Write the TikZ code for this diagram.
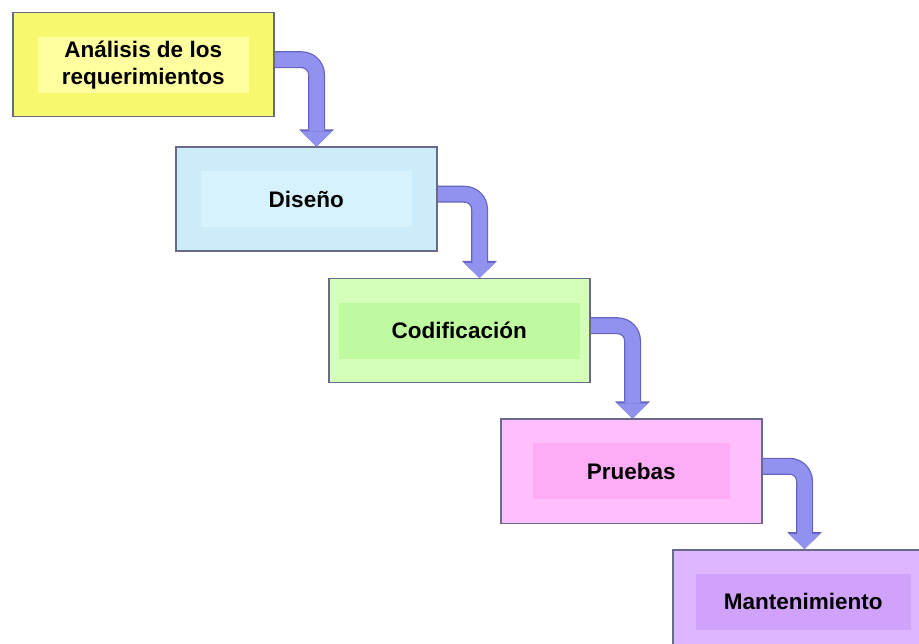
\documentclass[tikz,border=0pt]{standalone}
\usepackage{fontspec}
\setmainfont{Liberation Sans}
\usetikzlibrary{arrows.meta, positioning, backgrounds}
\definecolor{edgegray}{RGB}{105,105,140}
\definecolor{flowblue}{RGB}{145,145,240}
\definecolor{flowedge}{RGB}{100,100,190}
\definecolor{anaout}{RGB}{248,248,110}
\definecolor{anain}{RGB}{255,255,160}
\definecolor{disout}{RGB}{204,236,250}
\definecolor{disin}{RGB}{214,242,253}
\definecolor{codout}{RGB}{212,255,185}
\definecolor{codin}{RGB}{192,250,160}
\definecolor{pruout}{RGB}{255,190,252}
\definecolor{pruin}{RGB}{255,172,246}
\definecolor{manout}{RGB}{222,182,255}
\definecolor{manin}{RGB}{208,162,252}

\begin{document}
\begin{tikzpicture}[
    every node/.style={font=\bfseries\fontsize{22.5}{27}\selectfont},
    stage/.style n args={3}{rectangle, draw=edgegray, line width=1.5pt, fill=#1, align=center, inner sep=0pt, minimum width=261pt, minimum height=104pt,
        path picture={\fill[#2] ([xshift=#3, yshift=-24pt]path picture bounding box.north west) rectangle ([xshift=-#3, yshift=24pt]path picture bounding box.south east);}},
    flow/.style={line width=14.5pt, draw=flowblue, rounded corners=15pt, -{Triangle[length=15pt, width=31pt, line width=0pt]},
        preaction={draw=flowedge, line width=17pt, -{Triangle[length=17pt, width=35pt, line width=0pt]}}}
]
    \useasboundingbox (0,0) rectangle (919pt,-644pt);
    \clip (0,0) rectangle (919pt,-644pt);

    \node[stage={anaout}{anain}{25pt}, anchor=north west] (ana) at (12pt,-12pt) {Análisis de los\\requerimientos};
    \node[stage={disout}{disin}{25pt}, below=29pt of ana, xshift=163pt] (dis) {Diseño};
    \node[stage={codout}{codin}{10pt}, below=26pt of dis, xshift=153pt] (cod) {Codificación};
    \node[stage={pruout}{pruin}{32pt}, below=35pt of cod, xshift=172pt] (pru) {Pruebas};
    \node[stage={manout}{manin}{23pt}, below=25pt of pru, xshift=172pt] (man) {Mantenimiento};

    \begin{scope}[on background layer]
        \draw[flow] ([yshift=5pt]ana.east) -| ([xshift=42pt]ana.east |- dis.north);
        \draw[flow] ([yshift=5pt]dis.east) -| ([xshift=42pt]dis.east |- cod.north);
        \draw[flow] ([yshift=5pt]cod.east) -| ([xshift=42pt]cod.east |- pru.north);
        \draw[flow] ([yshift=5pt]pru.east) -| ([xshift=42pt]pru.east |- man.north);
    \end{scope}
\end{tikzpicture}
\end{document}
